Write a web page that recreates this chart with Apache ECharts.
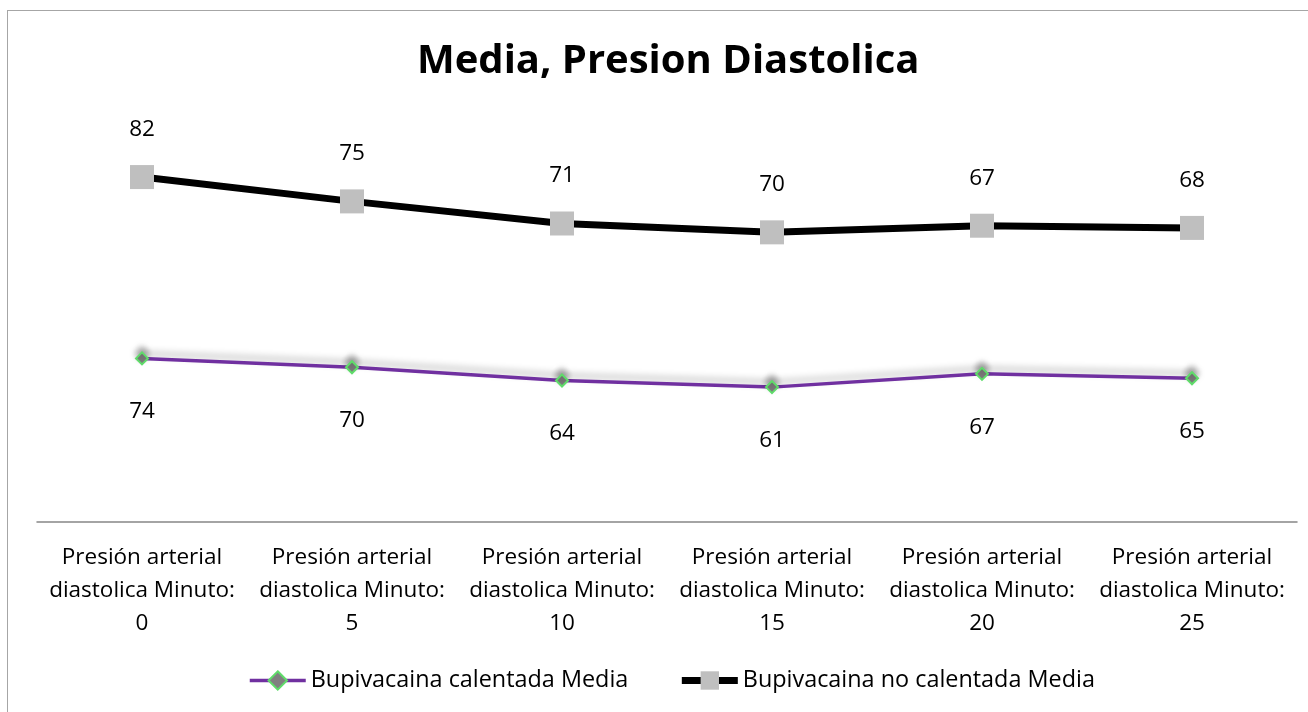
<!DOCTYPE html>
<html>
<head>
<meta charset="utf-8">
<script src="https://cdn.jsdelivr.net/npm/echarts@6/dist/echarts.min.js"></script>
<style>
html,body{margin:0;padding:0;background:#fff;overflow:hidden;}
#frame{position:absolute;left:7px;top:10px;width:1320px;height:720px;border:1px solid #a6a6a6;box-sizing:border-box;}
#chart{position:absolute;left:0;top:0;width:1308px;height:712px;}
</style>
</head>
<body>
<div id="frame"></div>
<div id="chart"></div>
<script>
const categories = [
  "Presión arterial\ndiastolica Minuto:\n0",
  "Presión arterial\ndiastolica Minuto:\n5",
  "Presión arterial\ndiastolica Minuto:\n10",
  "Presión arterial\ndiastolica Minuto:\n15",
  "Presión arterial\ndiastolica Minuto:\n20",
  "Presión arterial\ndiastolica Minuto:\n25"
];
const calentada = [74, 70, 64, 61, 67, 65];
const noCalentada = [82, 75, 71, 70, 67, 68];
const seriesNames = ["Bupivacaina calentada Media", "Bupivacaina no calentada Media"];
const titleText = "Media, Presion Diastolica";

const FONT = "Open Sans";
const FS = 22.5;
const chart = echarts.init(document.getElementById('chart'), null, {renderer: 'canvas'});
chart.setOption({
  animation: false,
  backgroundColor: 'transparent',
  title: {
    text: titleText,
    left: 412,
    top: 37,
    textStyle: {fontFamily: FONT, fontWeight: 'bold', fontSize: 40, color: '#000'}
  },
  legend: {
    bottom: 15,
    left: 243,
    itemWidth: 56,
    itemHeight: 23,
    itemGap: 50,
    textStyle: {fontFamily: FONT, fontSize: 23.4, color: '#000'},
    data: [
      {name: seriesNames[0], lineStyle: {width: 3.5}},
      {name: seriesNames[1], lineStyle: {width: 7}}
    ]
  },
  grid: {left: 37, right: 11, top: 124, bottom: 190, containLabel: false},
  xAxis: {
    type: 'category',
    data: categories,
    boundaryGap: true,
    axisLine: {lineStyle: {color: '#868686', width: 1.5}},
    axisTick: {show: false},
    axisLabel: {fontFamily: FONT, fontSize: FS, color: '#000', lineHeight: 33, margin: 19, interval: 0}
  },
  yAxis: {
    type: 'value',
    min: 0,
    max: 180,
    show: false,
    splitLine: {show: false}
  },
  series: [
    {
      name: seriesNames[0],
      type: 'line',
      stack: 'total',
      data: calentada,
      symbol: 'diamond',
      symbolSize: 12,
      lineStyle: {color: '#7030A0', width: 3.5, shadowColor: 'rgba(0,0,0,0.28)', shadowBlur: 7, shadowOffsetY: -5},
      itemStyle: {color: '#808080', borderColor: '#5fdc6a', borderWidth: 2, shadowColor: 'rgba(0,0,0,0.35)', shadowBlur: 6, shadowOffsetY: -5},
      label: {show: true, position: 'bottom', distance: 35, fontFamily: FONT, fontSize: FS, color: '#000'},
      z: 2
    },
    {
      name: seriesNames[1],
      type: 'line',
      stack: 'total',
      data: noCalentada,
      symbol: 'rect',
      symbolSize: 24,
      lineStyle: {color: '#000', width: 7},
      itemStyle: {color: '#bfbfbf', borderWidth: 0},
      label: {show: true, position: 'top', distance: 24, fontFamily: FONT, fontSize: FS, color: '#000'},
      z: 3
    }
  ]
});
</script>
</body>
</html>
